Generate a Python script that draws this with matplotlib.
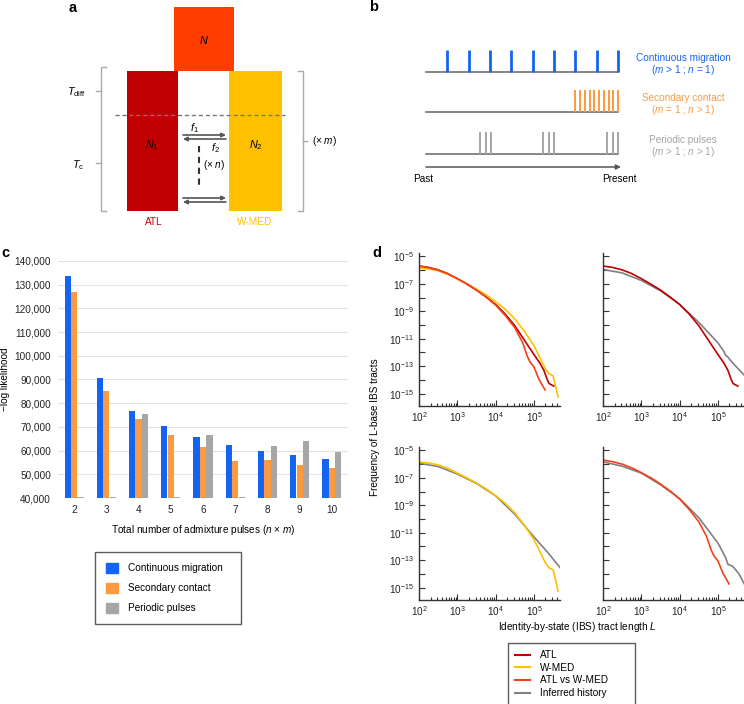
import numpy as np
import matplotlib
matplotlib.use('Agg')
import matplotlib.pyplot as plt
from matplotlib.patches import Rectangle, Patch
from matplotlib.lines import Line2D
from matplotlib.ticker import FixedLocator, NullFormatter, LogLocator

plt.rcParams['font.family'] = ['Liberation Sans', 'DejaVu Sans']
plt.rcParams['mathtext.fontset'] = 'custom'
plt.rcParams['mathtext.rm'] = 'Liberation Sans'
plt.rcParams['mathtext.it'] = 'Liberation Sans:italic'
plt.rcParams['mathtext.bf'] = 'Liberation Sans:bold'
plt.rcParams['font.size'] = 7.2

# ---------------- data ----------------
# panel b: pulse times (past = 0, present = 9)
cont_times = [1, 2, 3, 4, 5, 6, 7, 8, 9]
sec_times = [7.0, 7.22, 7.44, 7.67, 7.89, 8.11, 8.33, 8.56, 8.78, 9.0]
per_times = [2.55, 2.8, 3.05, 5.5, 5.75, 6.0, 8.5, 8.75, 9.0]

# panel c: -log likelihood
pulses = [2, 3, 4, 5, 6, 7, 8, 9, 10]
continuous = [133500, 90500, 76900, 70400, 65700, 62300, 59900, 58000, 56500]
secondary = [126800, 85000, 73400, 66700, 61600, 55800, 55900, 54100, 52700]
periodic = [np.nan, np.nan, 75300, np.nan, 66500, np.nan, 61900, 64100, 59200]

# panel d: log10 tract length / log10 frequency
atl_L = [2.0, 2.25, 2.5, 2.75, 3.0, 3.25, 3.5, 3.75, 4.0, 4.25, 4.5, 4.75, 5.0, 5.15, 5.26, 5.33, 5.39, 5.45, 5.52]
atl_F = [-5.7, -5.8, -5.98, -6.25, -6.62, -7.02, -7.45, -7.95, -8.5, -9.2, -10.05, -11.1, -12.15, -12.75, -13.3, -13.85, -14.25, -14.35, -14.45]
wmed_L = [2.0, 2.25, 2.5, 2.75, 3.0, 3.25, 3.5, 3.75, 4.0, 4.25, 4.5, 4.75, 5.0, 5.15, 5.3, 5.39, 5.5, 5.57, 5.63]
wmed_F = [-5.85, -5.92, -6.05, -6.3, -6.65, -7.0, -7.38, -7.8, -8.3, -8.85, -9.55, -10.45, -11.5, -12.35, -13.2, -13.55, -13.7, -14.5, -15.25]
cross_L = [2.0, 2.25, 2.5, 2.75, 3.0, 3.25, 3.5, 3.75, 4.0, 4.25, 4.5, 4.7, 4.83, 4.9, 5.0, 5.13, 5.29]
cross_F = [-5.7, -5.82, -6.0, -6.27, -6.62, -7.0, -7.45, -7.95, -8.55, -9.3, -10.2, -11.25, -12.3, -12.7, -13.05, -13.95, -14.73]
inf_atl_L = [2.0, 2.5, 3.0, 3.5, 4.0, 4.5, 5.0, 5.15, 5.2, 5.25, 5.35, 5.5, 5.7]
inf_atl_F = [-5.95, -6.2, -6.75, -7.5, -8.5, -9.8, -11.3, -11.9, -12.2, -12.3, -12.65, -13.1, -13.7]
inf_wmed_L = [2.0, 2.5, 3.0, 3.5, 4.0, 4.5, 5.0, 5.35, 5.7]
inf_wmed_F = [-5.93, -6.17, -6.72, -7.4, -8.31, -9.65, -11.3, -12.4, -13.6]
inf_cross_L = [2.0, 2.5, 3.0, 3.5, 4.0, 4.5, 5.0, 5.2, 5.26, 5.39, 5.55, 5.7]
inf_cross_F = [-5.83, -6.15, -6.65, -7.5, -8.5, -9.9, -11.75, -12.8, -13.3, -13.45, -14.0, -14.8]

BLUE, ORANGE, GREY = '#1464F4', '#FB9A40', '#A6A6A6'
C_ATL, C_WMED, C_CROSS, C_INF = '#C00000', '#FFC000', '#F4401A', '#808080'

W, H = 744, 704
fig = plt.figure(figsize=(W / 100, H / 100), dpi=100)


def px_axes(x0, y0, x1, y1):
    return fig.add_axes([x0 / W, 1 - y1 / H, (x1 - x0) / W, (y1 - y0) / H])


# overlay axes in pixel units for the schematics
ax0 = fig.add_axes([0, 0, 1, 1])
ax0.set_xlim(0, W)
ax0.set_ylim(H, 0)
ax0.axis('off')

# ---------------- panel a ----------------
ax0.add_patch(Rectangle((174, 7), 60, 64, color='#FF3C00', lw=0))
ax0.add_patch(Rectangle((127, 71), 51, 140, color=C_ATL, lw=0))
ax0.add_patch(Rectangle((229, 71), 53, 140, color=C_WMED, lw=0))
ax0.text(204, 40, '$N$', ha='center', va='center', fontsize=7.8)
ax0.text(152, 145, '$N_1$', ha='center', va='center', fontsize=7.8)
ax0.text(256, 145, '$N_2$', ha='center', va='center', fontsize=7.8)
ax0.plot([115, 285], [115, 115], ls=(0, (3, 2)), color='#777777', lw=1)
bc = '#AAAAAA'
ax0.plot([106, 101, 101, 106], [67, 67, 211, 211], color=bc, lw=1)
ax0.plot([96, 101], [91, 91], color=bc, lw=1)
ax0.plot([96, 101], [163, 163], color=bc, lw=1)
ax0.plot([298, 303, 303, 298], [71, 71, 211, 211], color=bc, lw=1)
ax0.plot([303, 307], [141, 141], color=bc, lw=1)
ax0.text(76, 92, r'$T_{\mathrm{diff}}$', ha='center', va='center', fontsize=7.8)
ax0.text(78, 165, r'$T_{\mathrm{c}}$', ha='center', va='center', fontsize=7.8)
ax0.text(312, 141, '(× $m$)', ha='left', va='center')
ax0.text(154, 222, 'ATL', ha='center', va='center', color=C_ATL)
ax0.text(255, 222, 'W-MED', ha='center', va='center', color=C_WMED)
arr = dict(arrowstyle='-|>', color='#555555', lw=1.2, mutation_scale=6,
           shrinkA=0, shrinkB=0)
for y, (xa, xb) in [(135, (183, 226)), (139, (226, 183)),
                    (198, (183, 226)), (202, (226, 183))]:
    ax0.annotate('', xy=(xb, y), xytext=(xa, y), arrowprops=arr)
ax0.text(194, 128, '$f_1$', ha='center', va='center', fontsize=7.8)
ax0.text(215, 148, '$f_2$', ha='center', va='center', fontsize=7.8)
ax0.plot([199, 199], [146, 187], color='#333333', lw=1.5, ls=(0, (3, 2.2)))
ax0.text(203, 165, '(× $n$)', ha='left', va='center')

# ---------------- panel b ----------------
def bx(t):
    return 426 + np.asarray(t) * 21.33


rows = [(72, cont_times, BLUE, 2.0, 'Continuous migration', '($m$ > 1 ; $n$ = 1)'),
        (112, sec_times, ORANGE, 1.4, 'Secondary contact', '($m$ = 1 ; $n$ > 1)'),
        (154, per_times, GREY, 1.4, 'Periodic pulses', '($m$ > 1 ; $n$ > 1)')]
for y, times, col, lw, name, sub in rows:
    ax0.plot([bx(0), bx(9)], [y, y], color='#666666', lw=1.1)
    ax0.vlines(bx(times), y - 22, y, color=col, lw=lw)
    ax0.text(683, y - 14, name, ha='center', va='center', color=col)
    ax0.text(683, y - 2, sub, ha='center', va='center', color=col)
ax0.annotate('', xy=(bx(9) + 3, 167), xytext=(bx(0), 167),
             arrowprops=dict(arrowstyle='-|>', color='#555555', lw=1.1,
                             mutation_scale=7, shrinkA=0, shrinkB=0))
ax0.text(423, 179, 'Past', ha='center', va='center')
ax0.text(619, 179, 'Present', ha='center', va='center')

# panel letters
for lab, x, y in [('a', 73, 8), ('b', 374, 7), ('c', 5, 253), ('d', 377, 253)]:
    ax0.text(x, y, lab, ha='center', va='center', fontsize=10.5, fontweight='bold')

# ---------------- panel c ----------------
axc = px_axes(58, 261, 348, 498)
x = np.arange(len(pulses))
per_plot = np.where(np.isnan(periodic), 40300, periodic)
axc.bar(x - 0.2, continuous, width=0.19, color=BLUE)
axc.bar(x, secondary, width=0.19, color=ORANGE)
axc.bar(x + 0.2, per_plot, width=0.19, color=GREY)
axc.set_xlim(-0.5, len(pulses) - 0.5)
axc.set_ylim(40000, 140000)
yt = list(range(40000, 140001, 10000))
axc.set_yticks(yt)
axc.set_yticklabels([f'{v:,}' for v in yt])
axc.set_xticks(x)
axc.set_xticklabels([str(p) for p in pulses])
axc.yaxis.grid(True, color='#E3E3E3', lw=0.8)
axc.set_axisbelow(True)
for s in axc.spines.values():
    s.set_visible(False)
axc.tick_params(length=0, labelcolor='#222222')
axc.tick_params(axis='y', pad=5)
axc.tick_params(axis='x', pad=5)
axc.set_xlabel('Total number of admixture pulses ($n$ × $m$)', labelpad=6)
axc.set_ylabel('\u2212log likelihood', labelpad=3)

fig.legend(handles=[Patch(color=BLUE, label='Continuous migration'),
                    Patch(color=ORANGE, label='Secondary contact'),
                    Patch(color=GREY, label='Periodic pulses')],
           loc='upper left', mode='expand',
           bbox_to_anchor=(95 / W, 1 - 623 / H, 146 / W, 71 / H),
           borderaxespad=0, frameon=True, fancybox=False, edgecolor='#333333',
           handlelength=1.2, handleheight=1.2, labelspacing=0.95,
           borderpad=1.05, handletextpad=1.1, fontsize=7.2)

# ---------------- panel d ----------------
boxes = [(419, 253, 560, 406), (603, 253, 744, 406),
         (419, 447, 560, 600), (603, 447, 744, 600)]
curves = [
    [(atl_L, atl_F, C_ATL), (wmed_L, wmed_F, C_WMED), (cross_L, cross_F, C_CROSS)],
    [(inf_atl_L, inf_atl_F, C_INF), (atl_L, atl_F, C_ATL)],
    [(inf_wmed_L, inf_wmed_F, C_INF), (wmed_L, wmed_F, C_WMED)],
    [(inf_cross_L, inf_cross_F, C_INF), (cross_L, cross_F, C_CROSS)],
]
for i, (bb, cset) in enumerate(zip(boxes, curves)):
    ax = px_axes(*bb)
    for Ls, Fs, col in cset:
        ax.plot(10 ** np.array(Ls), 10 ** np.array(Fs), color=col, lw=1.2)
    ax.set_xscale('log')
    ax.set_yscale('log')
    ax.set_xlim(1e2, 10 ** 5.68)
    ax.set_ylim(10 ** -15.9, 10 ** -4.75)
    ax.xaxis.set_major_locator(FixedLocator([1e2, 1e3, 1e4, 1e5]))
    ax.xaxis.set_minor_locator(LogLocator(base=10, subs=np.arange(2, 10)))
    ax.xaxis.set_minor_formatter(NullFormatter())
    ax.yaxis.set_major_locator(FixedLocator([10.0 ** e for e in range(-15, -4, 2)]))
    ax.yaxis.set_minor_locator(FixedLocator([10.0 ** e for e in range(-14, -5, 2)]))
    ax.yaxis.set_minor_formatter(NullFormatter())
    ax.tick_params(which='both', direction='in', color='#333333', width=0.8,
                   labelcolor='#222222', labelsize=7.2)
    ax.tick_params(axis='y', which='both', length=4, pad=4)
    ax.tick_params(axis='x', which='major', length=4, pad=3)
    ax.tick_params(axis='x', which='minor', length=2)
    for s in ['top', 'right']:
        ax.spines[s].set_visible(False)
    for s in ['left', 'bottom']:
        ax.spines[s].set_color('#333333')
        ax.spines[s].set_linewidth(1.0)
    if i % 2 == 1:
        ax.set_yticklabels([])

fig.text(375 / W, 1 - 427 / H, 'Frequency of L-base IBS tracts', rotation=90,
         ha='center', va='center')
fig.text(577 / W, 1 - 627 / H, 'Identity-by-state (IBS) tract length $L$',
         ha='center', va='center')

fig.legend(handles=[Line2D([], [], color=C_ATL, lw=1.5, label='ATL'),
                    Line2D([], [], color=C_WMED, lw=1.5, label='W-MED'),
                    Line2D([], [], color=C_CROSS, lw=1.5, label='ATL vs W-MED'),
                    Line2D([], [], color=C_INF, lw=1.5, label='Inferred history')],
           loc='upper left', mode='expand',
           bbox_to_anchor=(508 / W, 1 - 703 / H, 127 / W, 60 / H),
           borderaxespad=0, frameon=True, fancybox=False, edgecolor='#333333',
           handlelength=1.5, labelspacing=0.27, borderpad=0.7,
           handletextpad=1.0, fontsize=7.2)

fig.savefig('out.png', dpi=100)
